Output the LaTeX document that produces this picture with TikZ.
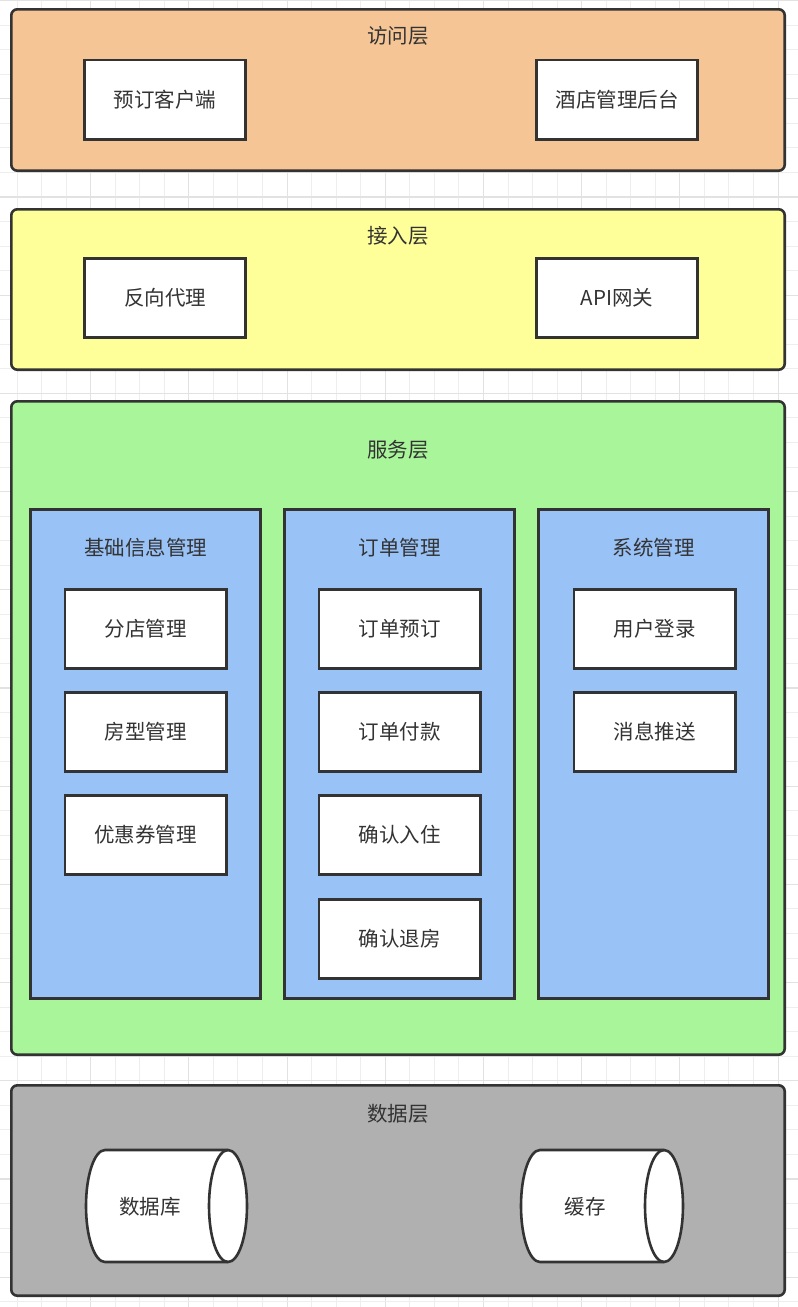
\documentclass[tikz,border=0pt]{standalone}
\usepackage{fontspec}
\setmainfont{Noto Sans CJK SC}
\definecolor{linec}{HTML}{333333}
\definecolor{textc}{HTML}{333333}
\definecolor{orangec}{HTML}{F5C596}
\definecolor{yellowc}{HTML}{FFFF9A}
\definecolor{greenc}{HTML}{A9F69A}
\definecolor{bluec}{HTML}{99C2F7}
\definecolor{grayc}{HTML}{B0B0B0}
\definecolor{gridc}{HTML}{EEEEEE}
\definecolor{gridd}{HTML}{E2E2E2}
\tikzset{
  layer/.style={draw=linec, line width=2.6pt, rounded corners=6pt, minimum width=773.4pt, inner sep=0pt},
  column/.style={draw=linec, fill=bluec, line width=2.6pt, minimum width=230.4pt, minimum height=489.4pt, inner sep=0pt},
  item/.style={draw=linec, fill=white, line width=2.6pt, minimum width=161.4pt, minimum height=79.4pt, inner sep=0pt, text=textc, font=\fontsize{20.5}{24}\selectfont},
  title/.style={text=textc, font=\fontsize{20.5}{24}\selectfont, inner sep=0pt},
  cyl/.style={draw=linec, fill=white, line width=2.6pt},
}
\begin{document}
\begin{tikzpicture}[x=1pt,y=-1pt]
\useasboundingbox (0,0) rectangle (798,1307);
\fill[white] (0,0) rectangle (798,1307);
% grid
\foreach \k in {0,...,32} {
  \pgfmathsetmacro{\gx}{17+24.55*\k}
  \pgfmathtruncatemacro{\m}{mod(\k,4)}
  \ifnum\m=3
    \draw[gridd, line width=1.1pt] (\gx,0) -- (\gx,1307);
  \else
    \draw[gridc, line width=1pt] (\gx,0) -- (\gx,1307);
  \fi
}
\foreach \k in {0,...,53} {
  \pgfmathsetmacro{\gy}{0.6+24.55*\k}
  \pgfmathtruncatemacro{\m}{mod(\k,4)}
  \ifnum\m=0
    \draw[gridd, line width=1.1pt] (0,\gy) -- (798,\gy);
  \else
    \draw[gridc, line width=1pt] (0,\gy) -- (798,\gy);
  \fi
}
% access layer
\node[layer, fill=orangec, minimum height=161.4pt] (access) at (398,90) {};
\node[title] (accessT) at (398,36) {访问层};
\node[item] (client) at (165,99.5) {预订客户端};
\node[item] (admin) at (617,99.5) {酒店管理后台};
% gateway layer
\node[layer, fill=yellowc, minimum height=160.4pt] (gate) at (398,289.5) {};
\node[title] (gateT) at (398,236) {接入层};
\node[item] (proxy) at (165,298) {反向代理};
\node[item] (api) at (617,298) {API网关};
% service layer
\node[layer, fill=greenc, minimum height=653.4pt] (service) at (398,728) {};
\node[title] (serviceT) at (398,450) {服务层};
\node[column] (col1) at (145.5,754) {};
\node[column] (col2) at (399.5,754) {};
\node[column] (col3) at (653.5,754) {};
\node[title] (col1T) at (145.5,548) {基础信息管理};
\node[title] (col2T) at (399.5,548) {订单管理};
\node[title] (col3T) at (653.5,548) {系统管理};
\node[item] (branch) at (145.5,629) {分店管理};
\node[item] (room) at (145.5,732) {房型管理};
\node[item] (coupon) at (145.5,835) {优惠券管理};
\node[item] (book) at (399.5,629) {订单预订};
\node[item] (pay) at (399.5,732) {订单付款};
\node[item] (checkin) at (399.5,835) {确认入住};
\node[item] (checkout) at (399.5,939) {确认退房};
\node[item] (login) at (654.5,629) {用户登录};
\node[item] (push) at (654.5,732) {消息推送};
% data layer
\node[layer, fill=grayc, minimum height=210.4pt] (data) at (398,1190.5) {};
\node[title] (dataT) at (398,1114) {数据层};
% database cylinder
\draw[cyl] (228,1150) -- (105,1150) arc[start angle=270, end angle=90, x radius=19, y radius=56]
  -- (228,1262) arc[start angle=90, end angle=-90, x radius=19, y radius=56] -- cycle;
\draw[linec, line width=2.6pt] (228,1150) arc[start angle=270, end angle=90, x radius=19, y radius=56];
\node[title] (db) at (150,1207) {数据库};
% cache cylinder
\draw[cyl] (664,1150) -- (540,1150) arc[start angle=270, end angle=90, x radius=19, y radius=56]
  -- (664,1262) arc[start angle=90, end angle=-90, x radius=19, y radius=56] -- cycle;
\draw[linec, line width=2.6pt] (664,1150) arc[start angle=270, end angle=90, x radius=19, y radius=56];
\node[title] (cache) at (585,1207) {缓存};
\end{tikzpicture}
\end{document}
